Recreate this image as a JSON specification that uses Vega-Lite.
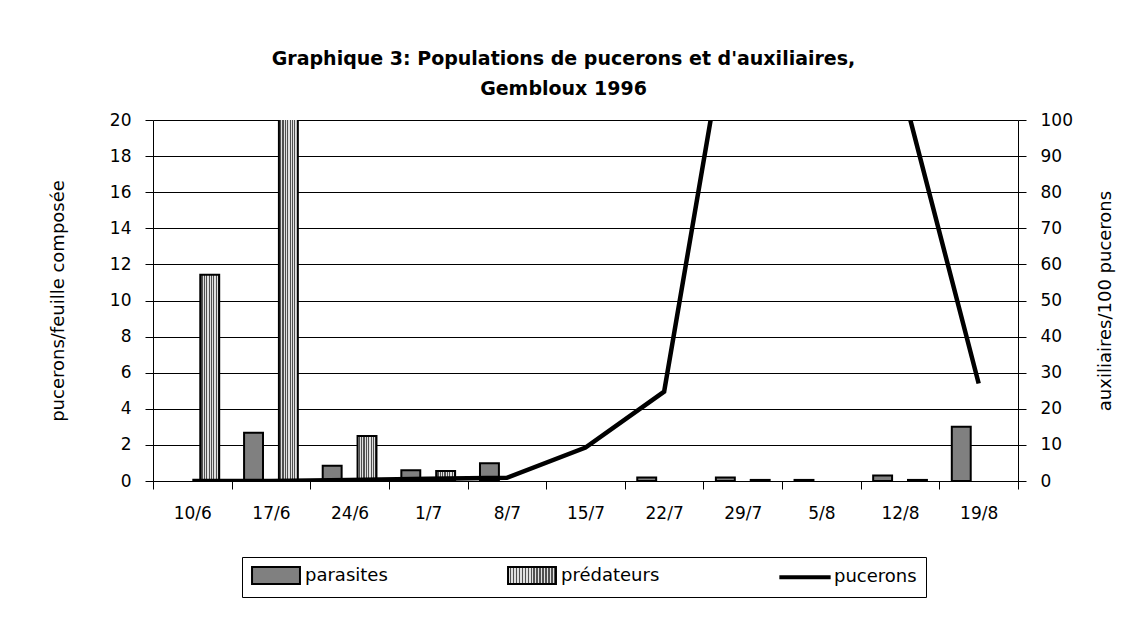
{
  "$schema": "https://vega.github.io/schema/vega-lite/v6.json",
  "width": 865,
  "height": 361,
  "autosize": "none",
  "padding": {"left": 153, "top": 120, "right": 117, "bottom": 142},
  "background": "white",
  "title": {
    "text": ["Graphique 3: Populations de pucerons et d'auxiliaires,", "Gembloux 1996"],
    "font": "DejaVu Sans",
    "fontSize": 19,
    "fontWeight": "bold",
    "color": "#000000",
    "lineHeight": 30,
    "offset": 12,
    "anchor": "middle",
    "dx": -22
  },
  "params": [
    {
      "name": "stripeBar",
      "value": {
        "gradient": "linear", "x1": 0, "y1": 0, "x2": 1, "y2": 0,
        "stops": [
          {"offset": 0, "color": "#e0e0e0"}, {"offset": 0.0625, "color": "#e0e0e0"},
          {"offset": 0.0625, "color": "#505050"}, {"offset": 0.125, "color": "#505050"},
          {"offset": 0.125, "color": "#e0e0e0"}, {"offset": 0.1875, "color": "#e0e0e0"},
          {"offset": 0.1875, "color": "#505050"}, {"offset": 0.25, "color": "#505050"},
          {"offset": 0.25, "color": "#e0e0e0"}, {"offset": 0.3125, "color": "#e0e0e0"},
          {"offset": 0.3125, "color": "#505050"}, {"offset": 0.375, "color": "#505050"},
          {"offset": 0.375, "color": "#e0e0e0"}, {"offset": 0.4375, "color": "#e0e0e0"},
          {"offset": 0.4375, "color": "#505050"}, {"offset": 0.5, "color": "#505050"},
          {"offset": 0.5, "color": "#e0e0e0"}, {"offset": 0.5625, "color": "#e0e0e0"},
          {"offset": 0.5625, "color": "#505050"}, {"offset": 0.625, "color": "#505050"},
          {"offset": 0.625, "color": "#e0e0e0"}, {"offset": 0.6875, "color": "#e0e0e0"},
          {"offset": 0.6875, "color": "#505050"}, {"offset": 0.75, "color": "#505050"},
          {"offset": 0.75, "color": "#e0e0e0"}, {"offset": 0.8125, "color": "#e0e0e0"},
          {"offset": 0.8125, "color": "#505050"}, {"offset": 0.875, "color": "#505050"},
          {"offset": 0.875, "color": "#e0e0e0"}, {"offset": 0.9375, "color": "#e0e0e0"},
          {"offset": 0.9375, "color": "#505050"}, {"offset": 1, "color": "#505050"}
        ]
      }
    },
    {
      "name": "stripeLeg",
      "value": {
        "gradient": "linear", "x1": 0, "y1": 0, "x2": 1, "y2": 0,
        "stops": [
          {"offset": 0, "color": "#e0e0e0"}, {"offset": 0.03125, "color": "#e0e0e0"},
          {"offset": 0.03125, "color": "#505050"}, {"offset": 0.0625, "color": "#505050"},
          {"offset": 0.0625, "color": "#e0e0e0"}, {"offset": 0.09375, "color": "#e0e0e0"},
          {"offset": 0.09375, "color": "#505050"}, {"offset": 0.125, "color": "#505050"},
          {"offset": 0.125, "color": "#e0e0e0"}, {"offset": 0.15625, "color": "#e0e0e0"},
          {"offset": 0.15625, "color": "#505050"}, {"offset": 0.1875, "color": "#505050"},
          {"offset": 0.1875, "color": "#e0e0e0"}, {"offset": 0.21875, "color": "#e0e0e0"},
          {"offset": 0.21875, "color": "#505050"}, {"offset": 0.25, "color": "#505050"},
          {"offset": 0.25, "color": "#e0e0e0"}, {"offset": 0.28125, "color": "#e0e0e0"},
          {"offset": 0.28125, "color": "#505050"}, {"offset": 0.3125, "color": "#505050"},
          {"offset": 0.3125, "color": "#e0e0e0"}, {"offset": 0.34375, "color": "#e0e0e0"},
          {"offset": 0.34375, "color": "#505050"}, {"offset": 0.375, "color": "#505050"},
          {"offset": 0.375, "color": "#e0e0e0"}, {"offset": 0.40625, "color": "#e0e0e0"},
          {"offset": 0.40625, "color": "#505050"}, {"offset": 0.4375, "color": "#505050"},
          {"offset": 0.4375, "color": "#e0e0e0"}, {"offset": 0.46875, "color": "#e0e0e0"},
          {"offset": 0.46875, "color": "#505050"}, {"offset": 0.5, "color": "#505050"},
          {"offset": 0.5, "color": "#e0e0e0"}, {"offset": 0.53125, "color": "#e0e0e0"},
          {"offset": 0.53125, "color": "#505050"}, {"offset": 0.5625, "color": "#505050"},
          {"offset": 0.5625, "color": "#e0e0e0"}, {"offset": 0.59375, "color": "#e0e0e0"},
          {"offset": 0.59375, "color": "#505050"}, {"offset": 0.625, "color": "#505050"},
          {"offset": 0.625, "color": "#e0e0e0"}, {"offset": 0.65625, "color": "#e0e0e0"},
          {"offset": 0.65625, "color": "#505050"}, {"offset": 0.6875, "color": "#505050"},
          {"offset": 0.6875, "color": "#e0e0e0"}, {"offset": 0.71875, "color": "#e0e0e0"},
          {"offset": 0.71875, "color": "#505050"}, {"offset": 0.75, "color": "#505050"},
          {"offset": 0.75, "color": "#e0e0e0"}, {"offset": 0.78125, "color": "#e0e0e0"},
          {"offset": 0.78125, "color": "#505050"}, {"offset": 0.8125, "color": "#505050"},
          {"offset": 0.8125, "color": "#e0e0e0"}, {"offset": 0.84375, "color": "#e0e0e0"},
          {"offset": 0.84375, "color": "#505050"}, {"offset": 0.875, "color": "#505050"},
          {"offset": 0.875, "color": "#e0e0e0"}, {"offset": 0.90625, "color": "#e0e0e0"},
          {"offset": 0.90625, "color": "#505050"}, {"offset": 0.9375, "color": "#505050"},
          {"offset": 0.9375, "color": "#e0e0e0"}, {"offset": 0.96875, "color": "#e0e0e0"},
          {"offset": 0.96875, "color": "#505050"}, {"offset": 1, "color": "#505050"}
        ]
      }
    }
  ],
  "layer": [
    {
      "data": {
        "values": [
          {"date": "10/6", "series": "prédateurs", "value": 57.1},
          {"date": "17/6", "series": "parasites", "value": 13.4},
          {"date": "17/6", "series": "prédateurs", "value": 150},
          {"date": "24/6", "series": "parasites", "value": 4.2},
          {"date": "24/6", "series": "prédateurs", "value": 12.5},
          {"date": "1/7", "series": "parasites", "value": 3.0},
          {"date": "1/7", "series": "prédateurs", "value": 2.8},
          {"date": "8/7", "series": "parasites", "value": 4.9},
          {"date": "22/7", "series": "parasites", "value": 1.0},
          {"date": "29/7", "series": "parasites", "value": 1.0},
          {"date": "29/7", "series": "prédateurs", "value": 0.3},
          {"date": "5/8", "series": "parasites", "value": 0.3},
          {"date": "12/8", "series": "parasites", "value": 1.5},
          {"date": "12/8", "series": "prédateurs", "value": 0.3},
          {"date": "19/8", "series": "parasites", "value": 15.0}
        ]
      },
      "mark": {"type": "bar", "stroke": "#000000", "strokeWidth": 2, "clip": true},
      "encoding": {
        "x": {
          "field": "date",
          "type": "nominal",
          "sort": null,
          "scale": {
            "domain": ["10/6", "17/6", "24/6", "1/7", "8/7", "15/7", "22/7", "29/7", "5/8", "12/8", "19/8"],
            "paddingInner": 0,
            "paddingOuter": 0
          },
          "axis": {
            "title": null,
            "labelAngle": 0,
            "tickBand": "extent",
            "labelPadding": 16,
            "tickSize": 8,
            "labelFontSize": 17,
            "labelOverlap": false
          }
        },
        "xOffset": {
          "field": "series",
          "type": "nominal",
          "scale": {"domain": ["parasites", "prédateurs"], "paddingInner": 0.457, "paddingOuter": 0.357}
        },
        "y": {
          "field": "value",
          "type": "quantitative",
          "scale": {"domain": [0, 100], "nice": false, "zero": true},
          "axis": {
            "orient": "right",
            "title": "auxiliaires/100 pucerons",
            "titleAngle": 270,
            "titlePadding": 42,
            "values": [0, 10, 20, 30, 40, 50, 60, 70, 80, 90, 100],
            "grid": false,
            "labelPadding": 14,
            "tickSize": 8
          }
        },
        "fill": {
          "condition": {"test": "datum.series === 'prédateurs'", "value": {"expr": "stripeBar"}},
          "value": "#808080"
        }
      }
    },
    {
      "data": {
        "values": [
          {"date": "10/6", "series": "pucerons", "value": 0},
          {"date": "17/6", "series": "pucerons", "value": 0},
          {"date": "24/6", "series": "pucerons", "value": 0.05},
          {"date": "1/7", "series": "pucerons", "value": 0.12},
          {"date": "8/7", "series": "pucerons", "value": 0.18},
          {"date": "15/7", "series": "pucerons", "value": 1.85},
          {"date": "22/7", "series": "pucerons", "value": 4.95},
          {"date": "29/7", "series": "pucerons", "value": 30.4},
          {"date": "5/8", "series": "pucerons", "value": 60},
          {"date": "12/8", "series": "pucerons", "value": 22.2},
          {"date": "19/8", "series": "pucerons", "value": 5.4}
        ]
      },
      "encoding": {
        "x": {"field": "date", "type": "nominal", "sort": null},
        "y": {
          "field": "value",
          "type": "quantitative",
          "scale": {"domain": [0, 20], "nice": false},
          "axis": {
            "orient": "left",
            "title": "pucerons/feuille composée",
            "titlePadding": 42,
            "values": [0, 2, 4, 6, 8, 10, 12, 14, 16, 18, 20],
            "grid": true,
            "labelPadding": 14,
            "tickSize": 8
          }
        }
      },
      "layer": [
        {
          "mark": {"type": "line", "strokeWidth": 4.5, "clip": true, "color": "#000000"}
        },
        {
          "mark": {"type": "point", "filled": true, "opacity": 0, "clip": true},
          "encoding": {
            "fill": {
              "field": "series",
              "type": "nominal",
              "scale": {"domain": ["parasites", "prédateurs", "pucerons"], "range": ["#808080", {"expr": "stripeLeg"}, "#000000"]},
              "legend": {
                "title": null, "orient": "none", "direction": "horizontal", "legendX": 89, "legendY": 437,
                "strokeColor": "#000000", "fillColor": "#ffffff", "padding": 9, "symbolSize": 289,
                "symbolOpacity": 1, "symbolOffset": 15.5, "symbolStrokeWidth": 2, "labelFont": "DejaVu Sans", "labelFontSize": 18,
                "labelColor": "#000000", "labelOffset": 19.5, "columnPadding": 116
              }
            },
            "stroke": {
              "field": "series",
              "type": "nominal",
              "scale": {"domain": ["parasites", "prédateurs", "pucerons"], "range": ["#000000", "#000000", "#000000"]},
              "legend": {
                "title": null, "orient": "none", "direction": "horizontal", "legendX": 89, "legendY": 437,
                "strokeColor": "#000000", "fillColor": "#ffffff", "padding": 9, "symbolSize": 289,
                "symbolOpacity": 1, "symbolOffset": 15.5, "symbolStrokeWidth": 2, "labelFont": "DejaVu Sans", "labelFontSize": 18,
                "labelColor": "#000000", "labelOffset": 19.5, "columnPadding": 116
              }
            },
            "shape": {
              "field": "series",
              "type": "nominal",
              "scale": {"domain": ["parasites", "prédateurs", "pucerons"], "range": ["M-2.82,-1H2.82V1H-2.82Z", "M-2.82,-1H2.82V1H-2.82Z", "M-2.9,-0.13H2.9V0.13H-2.9Z"]},
              "legend": {
                "title": null, "orient": "none", "direction": "horizontal", "legendX": 89, "legendY": 437,
                "strokeColor": "#000000", "fillColor": "#ffffff", "padding": 9, "symbolSize": 289,
                "symbolOpacity": 1, "symbolOffset": 15.5, "symbolStrokeWidth": 2, "labelFont": "DejaVu Sans", "labelFontSize": 18,
                "labelColor": "#000000", "labelOffset": 19.5, "columnPadding": 116
              }
            }
          }
        }
      ]
    }
  ],
  "resolve": {"scale": {"y": "independent"}},
  "config": {
    "view": {"stroke": null},
    "axis": {
      "domainColor": "#000000",
      "tickColor": "#000000",
      "labelColor": "#000000",
      "titleColor": "#000000",
      "labelFont": "DejaVu Sans",
      "titleFont": "DejaVu Sans",
      "labelFontSize": 17,
      "titleFontSize": 18,
      "titleFontWeight": "normal",
      "gridColor": "#000000",
      "gridOpacity": 1,
      "gridWidth": 1
    }
  }
}
